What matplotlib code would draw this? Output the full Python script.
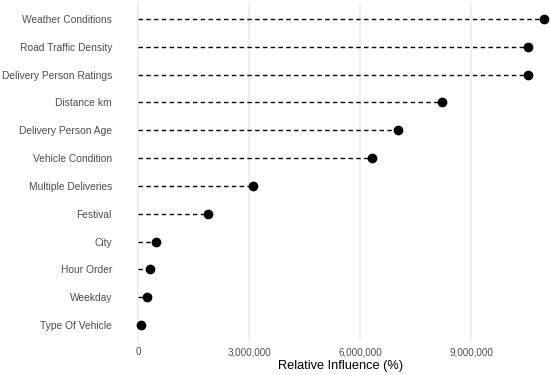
import matplotlib
matplotlib.use("Agg")
import matplotlib.pyplot as plt
from matplotlib.ticker import FuncFormatter

features = ["Weather Conditions", "Road Traffic Density", "Delivery Person Ratings",
            "Distance km", "Delivery Person Age", "Vehicle Condition",
            "Multiple Deliveries", "Festival", "City", "Hour Order",
            "Weekday", "Type Of Vehicle"]
influence = [10980000, 10550000, 10530000, 8220000, 7020000, 6320000,
             3120000, 1900000, 480000, 330000, 235000, 80000]
xticks = [0, 3000000, 6000000, 9000000]

plt.rcParams['font.family'] = ['Liberation Sans', 'DejaVu Sans']

fig = plt.figure(figsize=(5.5, 3.75), dpi=100)
ax = fig.add_axes([121/550, 1 - 341.7/375, (560 - 121)/550, (341.7 - 2.3)/375])

n = len(features)
ypos = list(range(n - 1, -1, -1))
for y, v in zip(ypos, influence):
    ax.plot([0, v], [y, y], color='black', linestyle=(0, (3.2, 2.4)), linewidth=1.0, zorder=2)
ax.scatter(influence, ypos, s=36, color='black', zorder=3)

ax.set_yticks(ypos)
ax.set_yticklabels(features, fontsize=7.4, color='#4d4d4d')
ax.set_xticks(xticks)
ax.xaxis.set_major_formatter(FuncFormatter(lambda v, p: f"{int(v):,}"))
ax.tick_params(axis='x', labelsize=7.1, labelcolor='#4d4d4d', length=0, pad=4)
ax.tick_params(axis='y', length=0, pad=6.5)
ax.set_xlim(-17/37*1e6, 422/37*1e6)
ax.set_ylim(-0.6, n - 1 + 0.6)
ax.grid(axis='x', color='#ebebeb', linewidth=1.1, zorder=0)
ax.set_axisbelow(True)
for s in ax.spines.values():
    s.set_visible(False)
ax.set_xlabel("Relative Influence (%)", fontsize=9.2, color='black', labelpad=2)

fig.savefig("out.png", dpi=100)
